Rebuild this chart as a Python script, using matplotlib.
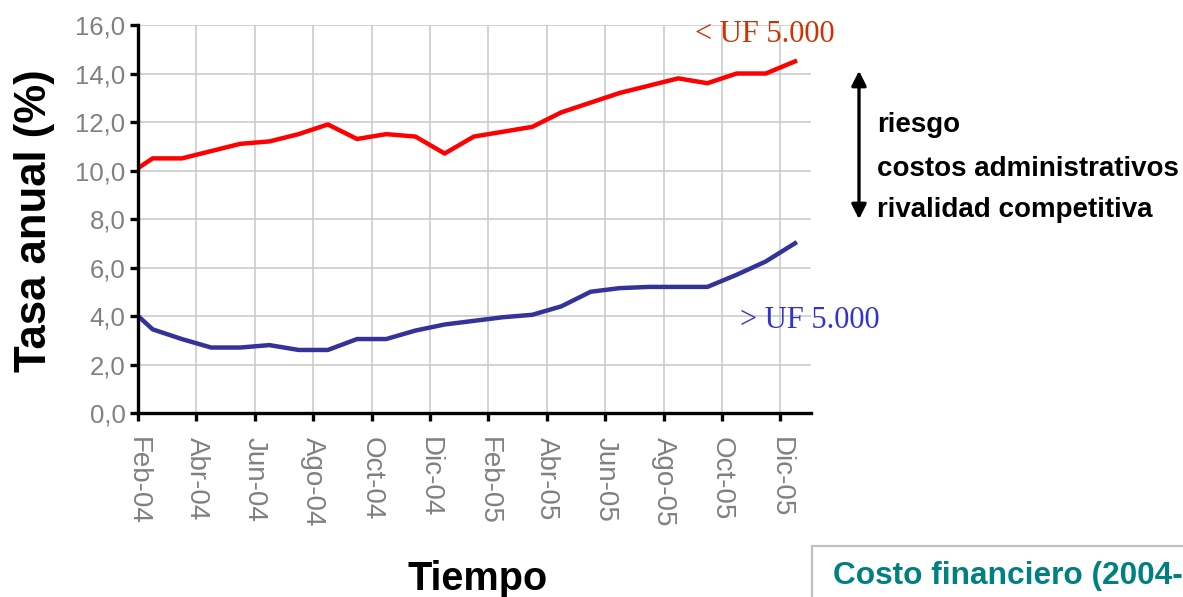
import matplotlib
matplotlib.use("Agg")
import matplotlib.pyplot as plt
from matplotlib.patches import Rectangle, FancyArrowPatch

# datos (meses desde Feb-04)
meses = [0, 0.5, 1.5, 2.5, 3.5, 4.5, 5.5, 6.5, 7.5, 8.5, 9.5, 10.5,
         11.5, 12.5, 13.5, 14.5, 15.5, 16.5, 17.5, 18.5, 19.5, 20.5, 21.5, 22.5]
tasa_menor = [10.1, 10.5, 10.5, 10.8, 11.1, 11.2, 11.5, 11.9, 11.3, 11.5, 11.4, 10.7,
              11.4, 11.6, 11.8, 12.4, 12.8, 13.2, 13.5, 13.8, 13.6, 14.0, 14.0, 14.5]
tasa_mayor = [4.0, 3.45, 3.05, 2.7, 2.7, 2.8, 2.6, 2.6, 3.05, 3.05, 3.4, 3.65,
              3.8, 3.95, 4.05, 4.4, 5.0, 5.15, 5.2, 5.2, 5.2, 5.7, 6.25, 7.0]

xticks = [0, 2, 4, 6, 8, 10, 12, 14, 16, 18, 20, 22]
xlabels = ["Feb-04", "Abr-04", "Jun-04", "Ago-04", "Oct-04", "Dic-04",
           "Feb-05", "Abr-05", "Jun-05", "Ago-05", "Oct-05", "Dic-05"]
yticks = [0, 2, 4, 6, 8, 10, 12, 14, 16]
ylabels = ["0,0", "2,0", "4,0", "6,0", "8,0", "10,0", "12,0", "14,0", "16,0"]

factores = ["riesgo", "costos administrativos", "rivalidad competitiva"]

sans = ["Liberation Sans", "DejaVu Sans"]
serif = ["Liberation Serif", "DejaVu Serif"]

fig = plt.figure(figsize=(11.83, 5.97), dpi=100)
ax = fig.add_axes([0.1167, 0.3082, 0.5689, 0.6499])

ax.plot(meses, tasa_menor, color="#FF0000", lw=3.2, solid_joinstyle="round", zorder=3)
ax.plot(meses, tasa_mayor, color="#333399", lw=3.2, solid_joinstyle="round", zorder=3)

ax.set_xlim(0, 23.05)
ax.set_ylim(0, 16)
ax.set_xticks(xticks)
ax.set_xticklabels(xlabels, rotation=270, family=sans, fontsize=20, color="#808080")
ax.set_yticks(yticks)
ax.set_yticklabels(ylabels, family=sans, fontsize=18.5, color="#808080")
ax.tick_params(axis="both", length=6, width=2.4, color="black")
ax.tick_params(axis="y", pad=3)
ax.tick_params(axis="x", pad=11)
ax.grid(True, color="#C8C8C8", lw=1.1)
ax.set_axisbelow(True)
for s in ["top", "right"]:
    ax.spines[s].set_visible(False)
for s in ["left", "bottom"]:
    ax.spines[s].set_linewidth(2.4)
    ax.spines[s].set_zorder(4)

# etiquetas de ejes
fig.text(35 / 1183, 1 - 221 / 597, "Tasa anual (%)", rotation=90, ha="center", va="center",
         family=sans, fontsize=31.5, fontweight="bold")
fig.text(478 / 1183, 1 - 590 / 597, "Tiempo", ha="center", va="baseline",
         family=sans, fontsize=28.5, fontweight="bold")

# etiquetas de series
fig.text(695 / 1183, 1 - 42 / 597, "< UF 5.000", family=serif, fontsize=22,
         color="#CC3300", va="baseline")
fig.text(740 / 1183, 1 - 328 / 597, "> UF 5.000", family=serif, fontsize=22,
         color="#3333CC", va="baseline")

# flecha y factores
flecha = FancyArrowPatch((859 / 1183, 1 - 222 / 597), (859 / 1183, 1 - 68 / 597),
                         transform=fig.transFigure, arrowstyle="<|-|>",
                         mutation_scale=22, lw=2.4, color="black")
fig.add_artist(flecha)
for txt, yb in zip(factores, [132, 176, 217]):
    fig.text(877 / 1183, 1 - yb / 597, txt, family=sans, fontsize=20,
             fontweight="bold", va="baseline")

# recuadro inferior
caja = Rectangle((812 / 1183, -0.1), 0.4, 0.1 + 51 / 597, transform=fig.transFigure,
                 facecolor="none", edgecolor="#BFBFBF", lw=1.6, clip_on=False)
fig.add_artist(caja)
fig.text(833 / 1183, 1 - 584 / 597, "Costo financiero (2004-2005)", family=sans,
         fontsize=22.8, fontweight="bold", color="#008080", va="baseline")

fig.savefig("out.png", dpi=100)
